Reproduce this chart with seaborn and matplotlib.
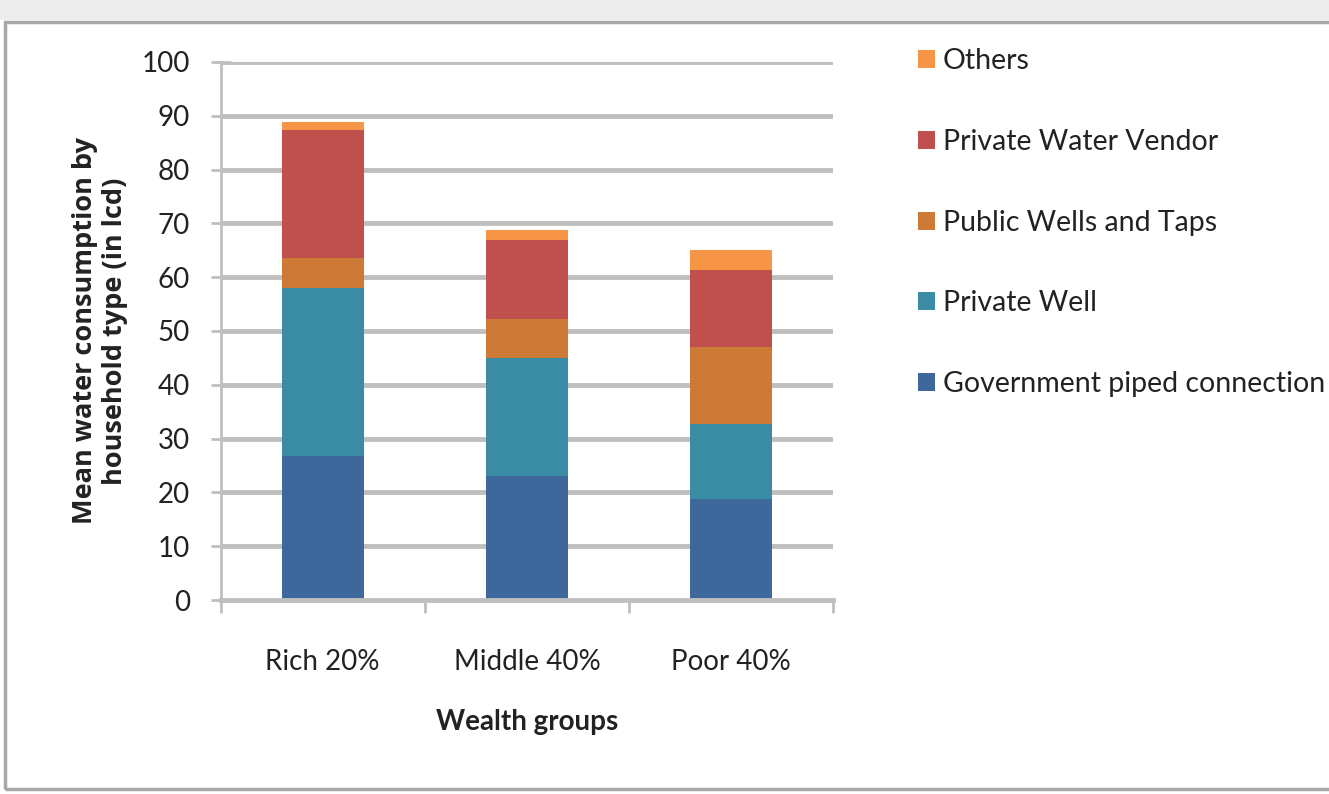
import matplotlib
matplotlib.use("Agg")
import matplotlib.pyplot as plt
import seaborn as sns
import pandas as pd
from matplotlib.patches import Patch, Rectangle

groups = ["Rich 20%", "Middle 40%", "Poor 40%"]
govt_piped = [26.8, 23.0, 18.7]
private_well = [31.2, 21.9, 14.0]
public_wells = [5.5, 7.4, 14.3]
water_vendor = [23.8, 14.7, 14.4]
others = [1.6, 1.7, 3.7]

series = ["Government piped connection", "Private Well", "Public Wells and Taps",
          "Private Water Vendor", "Others"]
colors = ["#3E689B", "#3A8CA5", "#CD7A36", "#C0504D", "#F59545"]

df = pd.DataFrame({"group": groups,
                   series[0]: govt_piped,
                   series[1]: private_well,
                   series[2]: public_wells,
                   series[3]: water_vendor,
                   series[4]: others})

sns.set_style("white")
plt.rcParams["font.family"] = ["Lato", "DejaVu Sans"]

fig = plt.figure(figsize=(13.29, 7.94), dpi=100)
ax = fig.add_axes([0.166, 0.2443, 0.461, 0.6777])

grid_col = "#BFBFBF"
for y in range(10, 101, 10):
    ax.axhline(y, color=grid_col, lw=3.5, zorder=0)

# stacked bars: draw cumulative totals from the top series down
cum = df[series].cumsum(axis=1)
for name, col in reversed(list(zip(series, colors))):
    sns.barplot(x=df["group"], y=cum[name], color=col, width=0.4,
                saturation=1, linewidth=0, edgecolor="none", ax=ax, zorder=2)

ax.set_ylim(0, 100)
ax.set_xlim(-0.5, 2.5)
ax.set_yticks(range(0, 101, 10))
ax.tick_params(axis="y", labelsize=20, colors=grid_col, labelcolor="#222222",
               direction="inout", length=14, width=2, left=True, pad=15)
ax.set_xticks([0, 1, 2])
ax.set_xticklabels(groups)
ax.tick_params(axis="x", labelsize=20, labelcolor="#222222", bottom=False, pad=32)
for xb in [-0.5, 0.5, 1.5, 2.5]:
    ax.plot([xb, xb], [0, -2.2], color=grid_col, lw=2, clip_on=False)

for s in ["top", "right"]:
    ax.spines[s].set_visible(False)
ax.spines["left"].set_color(grid_col)
ax.spines["left"].set_linewidth(2)
ax.spines["bottom"].set_color(grid_col)
ax.spines["bottom"].set_linewidth(3.5)

ax.set_ylabel("Mean water consumption by\nhousehold type (in lcd)", fontsize=19.5,
              fontweight="bold", family=["Open Sans", "DejaVu Sans"], labelpad=10,
              color="#222222", linespacing=1.2)
ax.set_xlabel("Wealth groups", fontsize=20, fontweight="bold", labelpad=24,
              color="#222222")

handles = [Patch(facecolor=c, edgecolor="none", label=n)
           for n, c in zip(series, colors)][::-1]
fig.legend(handles=handles, loc="upper left", bbox_to_anchor=(0.691, 0.939),
           frameon=False, fontsize=20.5, labelspacing=1.92, handlelength=0.6,
           handleheight=0.6, handletextpad=0.25, borderpad=0, borderaxespad=0,
           labelcolor="#222222")

# screenshot frame
fig.patches.append(Rectangle((0, 0.975), 1, 0.025, transform=fig.transFigure,
                             facecolor="#EDEDED", edgecolor="none", zorder=0))
fig.patches.append(Rectangle((0.004, 0.006), 1.0, 0.966, transform=fig.transFigure,
                             facecolor="none", edgecolor="#A8A8A8", lw=2.5, zorder=5))

fig.savefig("out.png", dpi=100)
